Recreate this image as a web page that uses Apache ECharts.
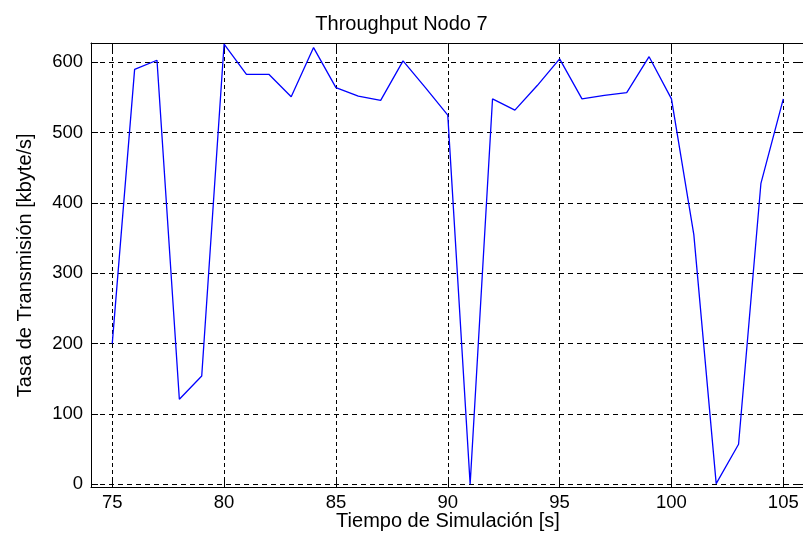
<!DOCTYPE html>
<html>
<head>
<meta charset="utf-8">
<title>Throughput Nodo 7</title>
<script src="https://cdn.jsdelivr.net/npm/echarts@6/dist/echarts.min.js"></script>
<style>
  html, body { margin: 0; padding: 0; background: #fff; }
  #chart { width: 803px; height: 534px; }
</style>
</head>
<body>
<div id="chart"></div>
<script>
// Simulation time [s]
const tiempo = [75, 76, 77, 78, 79, 80, 81, 82, 83, 84, 85, 86, 87, 88, 89, 90,
                91, 92, 93, 94, 95, 96, 97, 98, 99, 100, 101, 102, 103, 104, 105];
// Throughput of node 7 [kbyte/s]
const throughput = [200, 590, 603, 121, 154, 626, 583, 583, 551, 621, 564, 552, 546, 602, 564, 525,
                    0, 548, 532, 567, 605, 548, 553, 557, 608, 548, 355, 1, 57, 428, 548];
// Tick positions
const xTicks = [75, 80, 85, 90, 95, 100, 105];
const yTicks = [0, 100, 200, 300, 400, 500, 600];

const FONT = "'Liberation Sans', Arial, Helvetica, sans-serif";
const chart = echarts.init(document.getElementById('chart'), null, { renderer: 'canvas' });

const frameLine = { show: true, onZero: false, lineStyle: { color: '#000', width: 1 } };
const innerTick = (vals) => ({ show: true, inside: true, length: 7, customValues: vals,
                               lineStyle: { color: '#000', width: 1 } });

chart.setOption({
  animation: false,
  backgroundColor: '#fff',
  title: {
    text: 'Throughput Nodo 7',
    left: 'center',
    top: 9,
    textStyle: { fontFamily: FONT, fontSize: 20, fontWeight: 'normal', color: '#000' }
  },
  grid: { left: 91, right: -2, top: 43, bottom: 46.5, containLabel: false, outerBoundsMode: 'none' },
  xAxis: [
    {
      type: 'value',
      min: 74.05,
      max: 105.97,
      position: 'bottom',
      name: 'Tiempo de Simulación [s]',
      nameLocation: 'middle',
      nameGap: 24,
      nameMoveOverlap: false,
      nameTextStyle: { fontFamily: FONT, fontSize: 20, color: '#000' },
      axisLine: frameLine,
      axisTick: innerTick(xTicks),
      axisLabel: { customValues: xTicks, fontFamily: FONT, fontSize: 18.5, color: '#000', margin: 6 },
      splitLine: { show: true, lineStyle: { color: '#000', width: 1, type: [4, 3] } }
    },
    {
      type: 'value',
      min: 74.05,
      max: 105.97,
      position: 'top',
      axisLine: frameLine,
      axisTick: innerTick(xTicks),
      axisLabel: { show: false },
      splitLine: { show: false }
    }
  ],
  yAxis: [
    {
      type: 'value',
      min: -4.5,
      max: 627.5,
      position: 'left',
      name: 'Tasa de Transmisión [kbyte/s]',
      nameLocation: 'middle',
      nameGap: 56,
      nameMoveOverlap: false,
      nameTextStyle: { fontFamily: FONT, fontSize: 20, color: '#000' },
      axisLine: frameLine,
      axisTick: innerTick(yTicks),
      axisLabel: { customValues: yTicks, fontFamily: FONT, fontSize: 18.5, color: '#000', margin: 8 },
      splitLine: { show: true, lineStyle: { color: '#000', width: 1, type: [5, 4] } }
    },
    {
      type: 'value',
      min: -4.5,
      max: 627.5,
      position: 'right',
      axisLine: frameLine,
      axisTick: innerTick(yTicks),
      axisLabel: { show: false },
      splitLine: { show: false }
    }
  ],
  series: [
    {
      type: 'line',
      name: 'Throughput',
      data: tiempo.map((t, i) => [t, throughput[i]]),
      showSymbol: false,
      symbol: 'none',
      lineStyle: { color: '#0000ff', width: 1.3 },
      z: 3
    }
  ]
});
</script>
</body>
</html>
